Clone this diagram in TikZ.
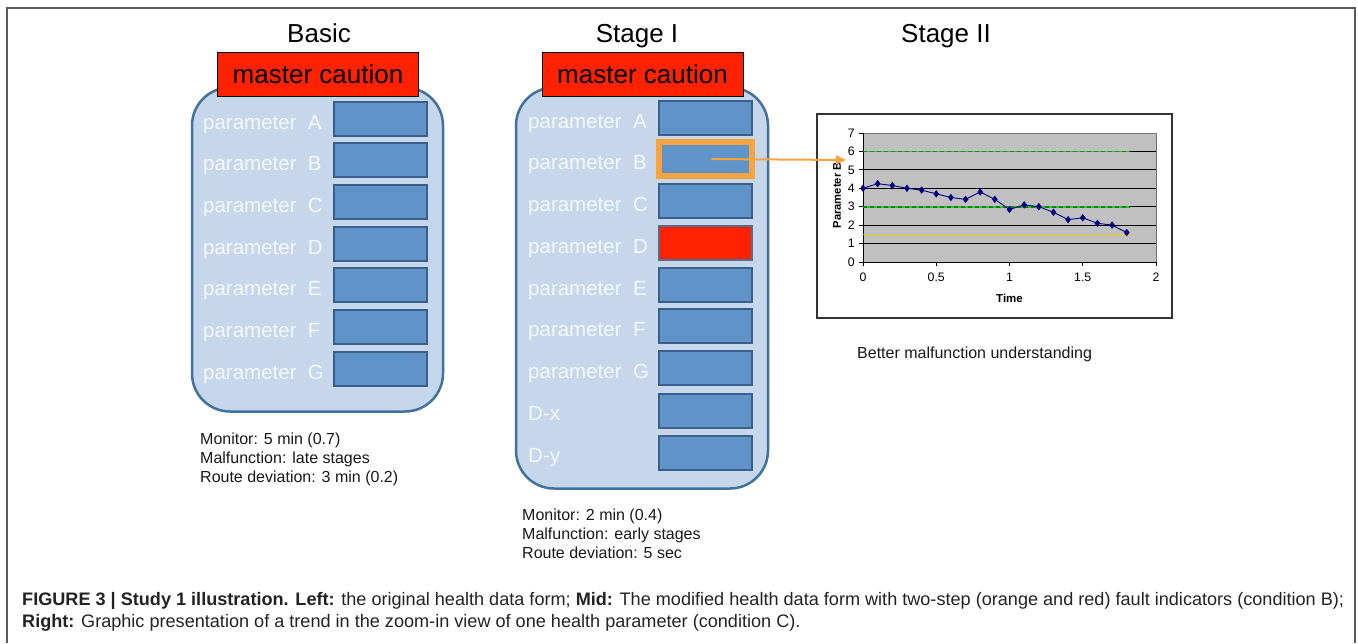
\documentclass[tikz,border=0pt]{standalone}
\usepackage{fontspec}
\setmainfont{Liberation Sans}
\usetikzlibrary{arrows.meta,plotmarks}
\definecolor{panelfill}{RGB}{198,215,235}
\definecolor{panelline}{RGB}{65,113,156}
\definecolor{boxfill}{RGB}{96,148,200}
\definecolor{boxline}{RGB}{58,95,140}
\definecolor{mcred}{RGB}{255,34,0}
\definecolor{orng}{RGB}{247,164,64}
\definecolor{lbl}{RGB}{244,248,252}
\definecolor{navyc}{RGB}{0,0,128}
\definecolor{plotgray}{RGB}{192,192,192}
\definecolor{glight}{RGB}{60,185,60}
\definecolor{gdark}{RGB}{0,135,0}
\definecolor{yline}{RGB}{255,204,0}
\definecolor{captext}{RGB}{35,35,35}
\definecolor{framec}{RGB}{90,90,90}
\begin{document}
\begin{tikzpicture}[x=1pt,y=-1pt,
 panel/.style={draw=panelline, line width=2.5pt, fill=panelfill, rounded corners=38pt, inner sep=0pt},
 caution/.style={draw=black, line width=0.8pt, fill=mcred, minimum width=201pt, minimum height=44pt, inner sep=0pt, font=\fontsize{26}{30}\selectfont},
 pbox/.style={draw=boxline, line width=2pt, fill=boxfill, minimum width=93pt, minimum height=34pt, inner sep=0pt},
 plabel/.style={text=lbl, font=\fontsize{20.5}{24}\selectfont, anchor=base west, inner sep=0pt},
 note/.style={font=\fontsize{16}{19}\selectfont, anchor=base west, inner sep=0pt, text=black!90},
 title/.style={font=\fontsize{26}{30}\selectfont, anchor=base, inner sep=0pt},
 captionstyle/.style={font=\fontsize{18.1}{21}\selectfont, anchor=base west, inner sep=0pt, text=captext},
 ticklab/.style={font=\fontsize{12.3}{14}\selectfont, inner sep=0pt},
]
\useasboundingbox (0,0) rectangle (1358,643);
\fill[white] (0,0) rectangle (1358,643);
\draw[framec, line width=1.5pt] (7,643) -- (7,8) -- (1355,8) -- (1355,643);

% titles
\node[title] (tbasic) at (319,42) {Basic};
\node[title] (tstage1) at (637,42) {Stage I};
\node[title] (tstage2) at (946,42) {Stage II};

% ---------- Basic ----------
\node[panel, minimum width=251pt, minimum height=324pt] (bpanel) at (317.5,249.5) {};
\node[caution] (bcaution) at (318,74) {master caution};
\foreach \l/\y in {A/118.5,B/160.2,C/201.9,D/243.6,E/285.3,F/327,G/368.7}{
  \node[pbox] (b\l) at (380.5,\y) {};
  \node[plabel] (bl\l) at (203,\y+10.5) {parameter\ \ \l};
}
\node[note] (bn1) at (200,444) {Monitor: 5 min (0.7)};
\node[note] (bn2) at (200,463) {Malfunction: late stages};
\node[note] (bn3) at (200,482) {Route deviation: 3 min (0.2)};

% ---------- Stage I ----------
\node[panel, minimum width=252pt, minimum height=401pt] (spanel) at (642,288) {};
\node[caution] (scaution) at (642.5,74) {master caution};
\foreach \l/\y in {A/117.5,C/200.5,E/284.5,F/326.4,G/368.3}{
  \node[pbox] (s\l) at (705,\y) {};
  \node[plabel] (sl\l) at (528,\y+10.5) {parameter\ \ \l};
}
\node[pbox, draw=orng, line width=6pt, minimum width=93pt, minimum height=34pt] (sB) at (705.5,159) {};
\node[plabel] (slB) at (528,169.5) {parameter\ \ B};
\node[pbox, fill=mcred, draw=boxline!60!gray] (sD) at (705,242.5) {};
\node[plabel] (slD) at (528,253) {parameter\ \ D};
\node[pbox] (sDx) at (705,410.5) {};
\node[plabel] (slDx) at (528,420.5) {D-x};
\node[pbox] (sDy) at (705,452.5) {};
\node[plabel] (slDy) at (528,462.5) {D-y};
\node[note] (sn1) at (522,520) {Monitor: 2 min (0.4)};
\node[note] (sn2) at (522,539) {Malfunction: early stages};
\node[note] (sn3) at (522,558) {Route deviation: 5 sec};

% ---------- Stage II chart ----------
\node[draw=black!80, line width=1.2pt, fill=white, minimum width=355pt, minimum height=204pt, inner sep=0pt] (chart) at (994.5,216) {};
\begin{scope}[shift={(863,262)}, x=146.5pt, y=18.43pt]
  \fill[plotgray] (0,0) rectangle (2,7);
  \draw[black!55, line width=0.6pt] (0,7) -- (2,7) -- (2,0);
  \foreach \v in {1,2,4,5} \draw[black, line width=0.8pt] (0,\v) -- (2,\v);
  \foreach \v in {3,6} \draw[black, line width=0.8pt] (1.82,\v) -- (2,\v);
  \draw[black, line width=0.8pt] (0,0) -- (0,7);
  \draw[black, line width=0.8pt] (0,0) -- (2,0);
  \foreach \v in {0,...,7}{
    \draw[black, line width=0.8pt] (0,\v) -- ++(-4pt,0pt);
    \node[ticklab, anchor=east] (yl\v) at ([xshift=-8pt]0,\v) {\v};
  }
  \foreach \t/\s in {0/0,0.5/0.5,1/1,1.5/1.5,2/2}{
    \draw[black, line width=0.8pt] (\t,0) -- ++(0pt,-4pt);
    \node[ticklab] (xl\s) at ([yshift=-15pt]\t,0) {\s};
  }
  \node[ticklab, font=\fontsize{11.5}{13}\selectfont\bfseries] (xtitle) at ([yshift=-36pt]1,0) {Time};
  \node[ticklab, font=\fontsize{11.2}{13}\selectfont\bfseries, rotate=90] (ytitle) at ([xshift=-26pt]0,3.62) {Parameter B};
  \draw[glight, line width=1.8pt] (0,6) -- (1.82,6);
  \draw[gdark, line width=1.8pt, dash pattern=on 4pt off 3pt] (0,6) -- (1.82,6);
  \draw[glight, line width=1.8pt] (0,3) -- (1.82,3);
  \draw[gdark, line width=1.8pt, dash pattern=on 4pt off 3pt] (0,3) -- (1.82,3);
  \draw[yline, line width=1.6pt] (0,1.5) -- (1.82,1.5);
  \draw[navyc, line width=0.9pt, mark=diamond*, mark size=3pt, mark options={fill=navyc}] plot coordinates {
    (0,4) (0.1,4.25) (0.2,4.15) (0.3,4.0) (0.4,3.9) (0.5,3.7) (0.6,3.5) (0.7,3.4) (0.8,3.8) (0.9,3.4)
    (1.0,2.85) (1.1,3.1) (1.2,3.0) (1.3,2.7) (1.4,2.3) (1.5,2.4) (1.6,2.1) (1.7,2.0) (1.8,1.6)};
\end{scope}

% arrow
\coordinate (tip) at (846,160);
\draw[orng, line width=2pt, -{Triangle[length=10pt,width=9pt]}] ([xshift=6pt]sB.center) -- (tip);

\node[note] (better) at (857,358) {Better malfunction understanding};

% caption
\node[captionstyle] (cap1) at (22,605) {\textbf{FIGURE 3 | Study 1 illustration. Left:} the original health data form; \textbf{Mid:} The modified health data form with two-step (orange and red) fault indicators (condition B);};
\node[captionstyle] (cap2) at (22,627) {\textbf{Right:} Graphic presentation of a trend in the zoom-in view of one health parameter (condition C).};
\end{tikzpicture}
\end{document}
